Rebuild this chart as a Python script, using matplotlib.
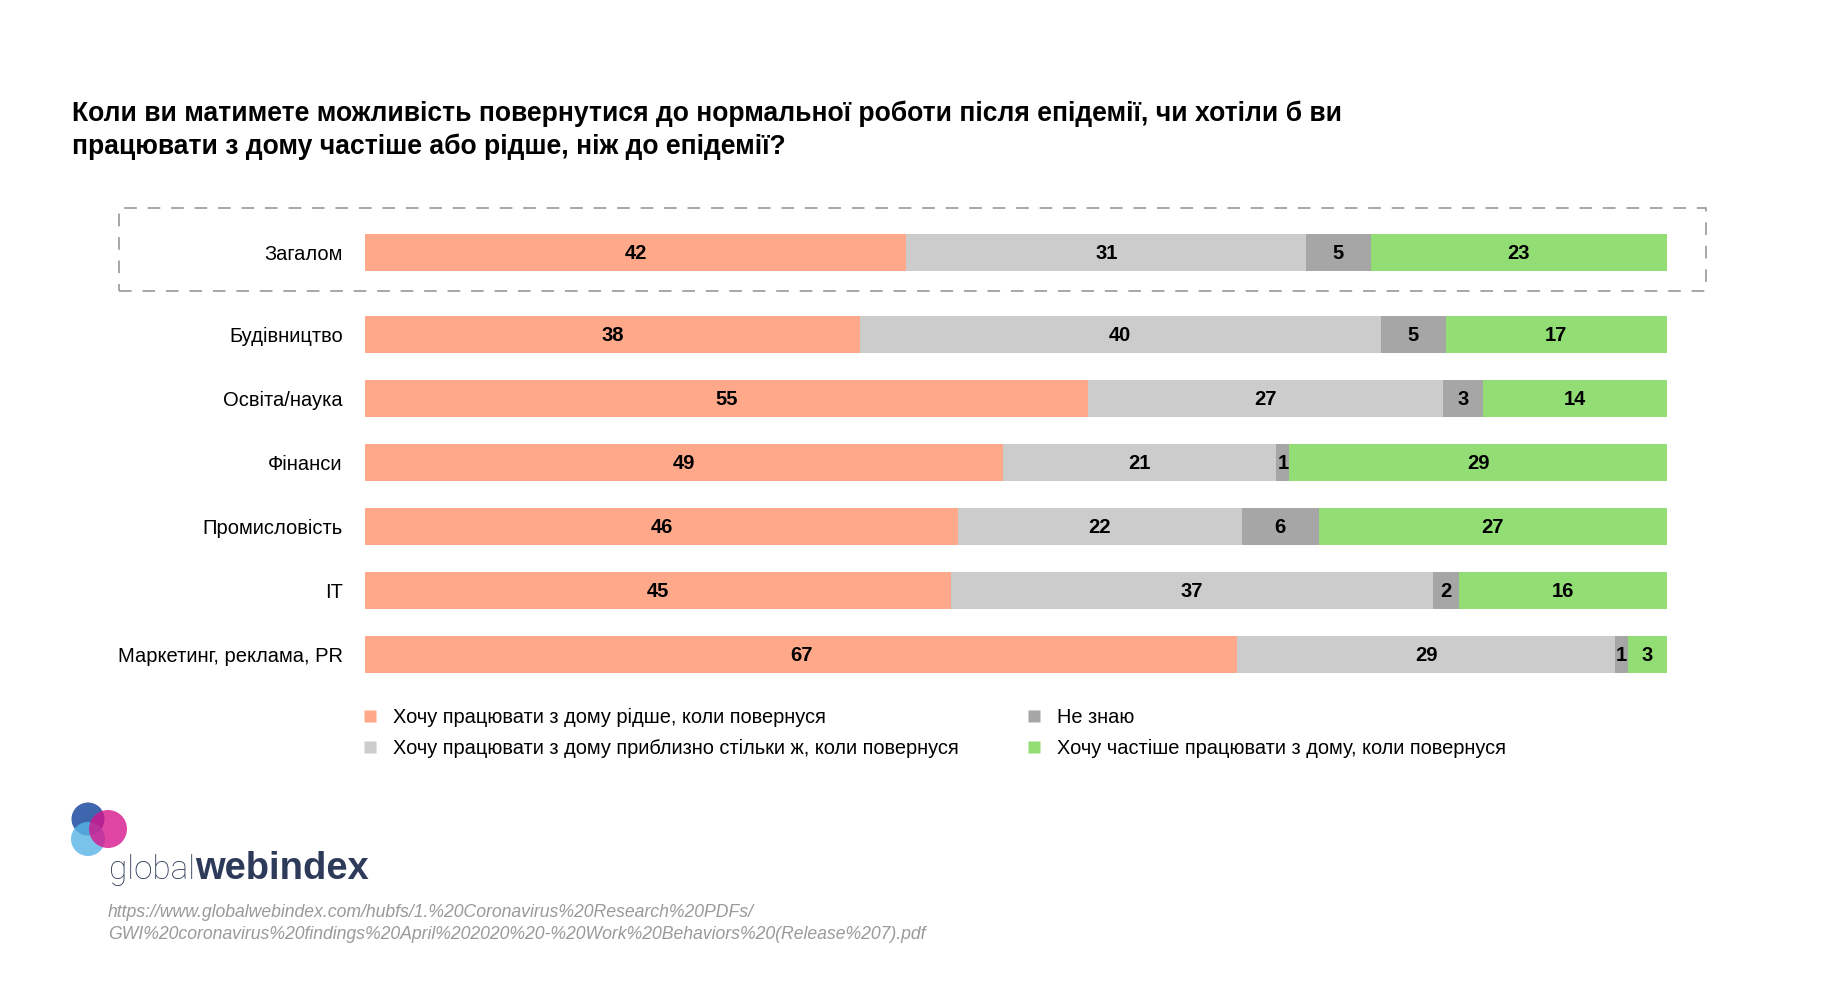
import matplotlib
matplotlib.use('Agg')
import matplotlib.pyplot as plt
from matplotlib.patches import Rectangle, Circle
from matplotlib.lines import Line2D
import numpy as np

plt.rcParams['font.family'] = ['Liberation Sans', 'DejaVu Sans']

categories = ['Загалом', 'Будівництво', 'Освіта/наука', 'Фінанси',
              'Промисловість', 'IT', 'Маркетинг, реклама, PR']
less_often = [42, 38, 55, 49, 46, 45, 67]
same = [31, 40, 27, 21, 22, 37, 29]
dont_know = [5, 5, 3, 1, 6, 2, 1]
more_often = [23, 17, 14, 29, 27, 16, 3]

series_names = ['Хочу працювати з дому рідше, коли повернуся',
                'Хочу працювати з дому приблизно стільки ж, коли повернуся',
                'Не знаю',
                'Хочу частіше працювати з дому, коли повернуся']
colors = ['#FFA98A', '#CCCCCC', '#A6A6A6', '#93DD75']

title = ('Коли ви матимете можливість повернутися до нормальної роботи після епідемії, чи хотіли б ви\n'
         'працювати з дому частіше або рідше, ніж до епідемії?')
source = ('https://www.globalwebindex.com/hubfs/1.%20Coronavirus%20Research%20PDFs/\n'
          'GWI%20coronavirus%20findings%20April%202020%20-%20Work%20Behaviors%20(Release%207).pdf')

W, H = 1824, 994
fig = plt.figure(figsize=(W / 100, H / 100), dpi=100)

# bar area in pixels
x0, x1 = 365, 1667
ytop, ybot = 200, 700
ax = fig.add_axes([x0 / W, 1 - ybot / H, (x1 - x0) / W, (ybot - ytop) / H])

# row positions: overall row separated a bit more
ypos = np.array([0] + [81.5 / 64 + i for i in range(6)])
bar_h = 37 / 64

data = np.array([less_often, same, dont_know, more_often], dtype=float)
totals = data.sum(axis=0)
left = np.zeros(len(categories))
for vals, col in zip(data, colors):
    w = vals / totals
    ax.barh(ypos, w, left=left, height=bar_h, color=col, edgecolor='none')
    for y, l, ww, v in zip(ypos, left, w, vals):
        ax.text(l + ww / 2, y + 0.02, '%d' % v, ha='center', va='center',
                fontsize=14.5, fontweight='bold', color='black')
    left += w

ax.set_xlim(0, 1)
ax.set_ylim((ybot - 252.5) / 64, (ytop - 252.5) / 64)
ax.set_yticks(ypos)
ax.set_yticklabels(categories, fontsize=14.5)
ax.tick_params(axis='y', length=0, pad=16)
ax.set_xticks([])
for s in ax.spines.values():
    s.set_visible(False)

# dashed frame around the overall row
fig.patches.append(Rectangle((119 / W, 1 - 291 / H), (1706 - 119) / W, (291 - 208) / H,
                             transform=fig.transFigure, fill=False, edgecolor='#A0A0A0',
                             linewidth=1.3, linestyle=(0, (7, 6))))

fig.text(72 / W, 1 - 101 / H, title, fontsize=19.1, fontweight='bold',
         va='top', ha='left', linespacing=1.3)

handles = [Line2D([], [], marker='s', linestyle='none', markersize=8,
                  markerfacecolor=c, markeredgecolor='none') for c in colors]
fig.legend(handles, series_names, loc='upper left', ncol=2,
           bbox_to_anchor=(344 / W, 1 - 690 / H), frameon=False, fontsize=14.4,
           handletextpad=0.75, columnspacing=3.35, labelspacing=0.58,
           handlelength=0.8)

# logo
logo = fig.add_axes([0, 0, 1, 1], zorder=-1)
logo.set_xlim(0, W)
logo.set_ylim(H, 0)
logo.axis('off')
logo.add_patch(Circle((88, 819), 16.5, color='#3D66AE', alpha=1.0, lw=0))
logo.add_patch(Circle((88, 839), 17, color='#58B5E5', alpha=0.8, lw=0))
logo.add_patch(Circle((108, 829), 19, color='#D7118A', alpha=0.78, lw=0))

t1 = fig.text(109 / W, 1 - 879 / H, 'global', fontsize=28, color='#2E3A59',
              family=['Roboto', 'Lato'], fontweight='light', va='baseline')
t2 = fig.text(193 / W, 1 - 879 / H, 'webindex', fontsize=24, color='#2E3A59',
              fontweight='bold', va='baseline')
fig.canvas.draw()
r = fig.canvas.get_renderer()
# fit the two logo words to their widths in the reference
b1 = t1.get_window_extent(r)
t1.set_fontsize(28 * 86 / b1.width)
b1 = t1.get_window_extent(r)
t2.set_x(b1.x1 / W)
b2 = t2.get_window_extent(r)
t2.set_fontsize(24 * 174 / b2.width)

fig.text(108 / W, 1 - 904 / H, source, fontsize=12.7, color='#9A9A9A',
         style='italic', va='top', ha='left', linespacing=1.4)

fig.savefig('out.png', dpi=100, facecolor='white')
